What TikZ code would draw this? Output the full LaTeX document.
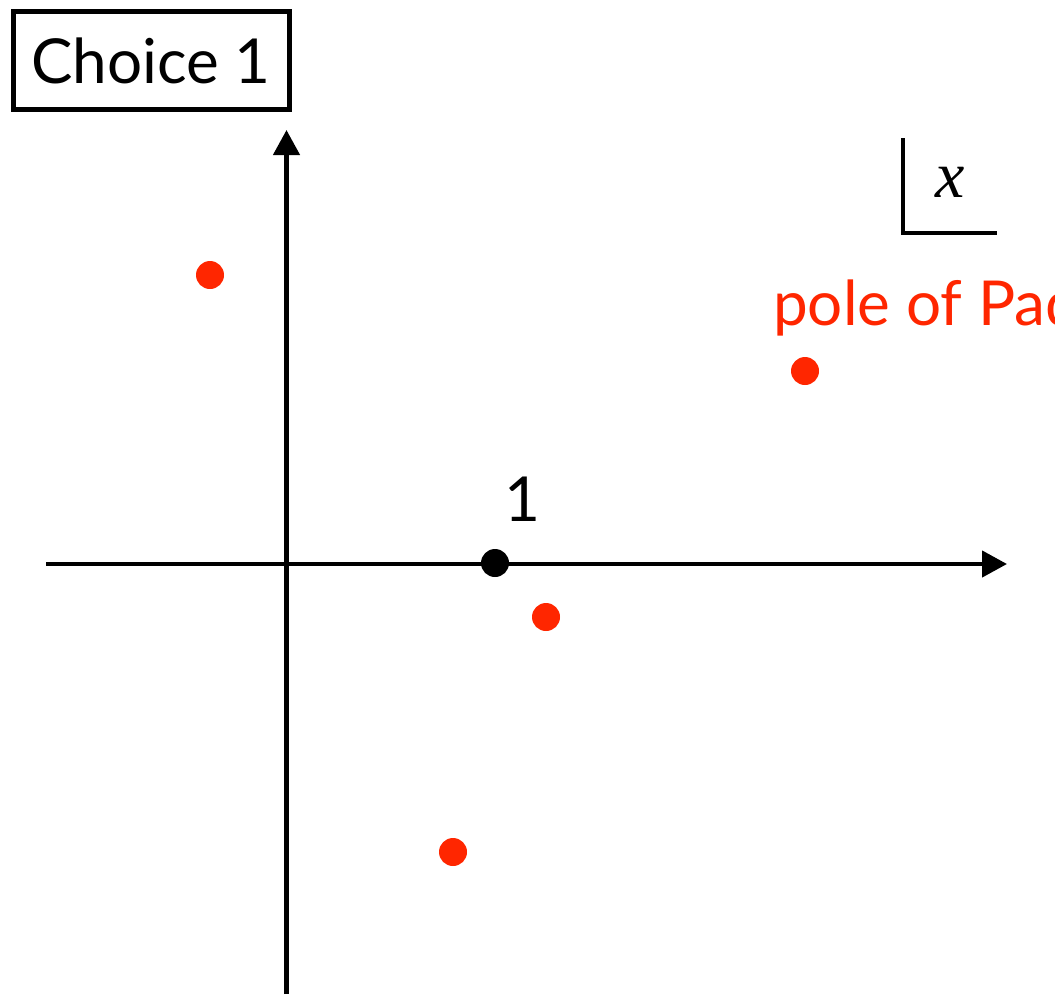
\documentclass[tikz,border=0pt]{standalone}
\usepackage{fontspec}
\usepackage{tikz}
\usetikzlibrary{arrows.meta,positioning,calc}
\setmainfont{Lato}
\newfontfamily\varfont{Liberation Serif}
\definecolor{polered}{RGB}{255,38,0}

\begin{document}
\begin{tikzpicture}[x=1pt,y=-1pt,
  axis/.style={line width=4.5pt,-{Triangle[length=25pt,width=26pt]}},
  reddot/.style={circle,fill=polered,inner sep=0pt,minimum size=28pt},
  blackdot/.style={circle,fill=black,inner sep=0pt,minimum size=28pt},
  bigfont/.style={font=\fontsize{62}{70}\selectfont}]
  \useasboundingbox (0,0) rectangle (1055,994); % frame of the whole picture
  \clip (0,0) rectangle (1055,994); % label on the right is cut at the edge
  \node[draw,line width=5pt,minimum width=276pt,minimum height=98pt,inner sep=0pt,bigfont] (choice) at (151,60.5) {Choice 1}; % title box
  \draw[axis] (46,564) -- (1007,564); % real axis
  \draw[axis] (286.5,994) -- (286.5,130); % imaginary axis
  \node[blackdot] (one) at (495,563) {}; % the point 1
  \node[bigfont,above=24pt of one,xshift=27pt] (onelabel) {1}; % label of the point 1
  \node[reddot] (p1) at (210,275) {}; % pole upper left
  \node[reddot] (p2) at (805,371) {}; % pole upper right
  \node[reddot] (p3) at (546,617) {}; % pole near 1
  \node[reddot] (p4) at (453,852) {}; % pole lower
  \node[bigfont,text=polered,anchor=base west,inner sep=0pt] (polelabel) at (773,325) {pole of Padé}; % red label
  \draw[line width=4.5pt] (903,138) -- (903,233) -- (997,233); % corner of the variable box
  \node[font=\fontsize{66}{70}\varfont\itshape] (var) at (950,182) {x}; % variable name
\end{tikzpicture}
\end{document}
